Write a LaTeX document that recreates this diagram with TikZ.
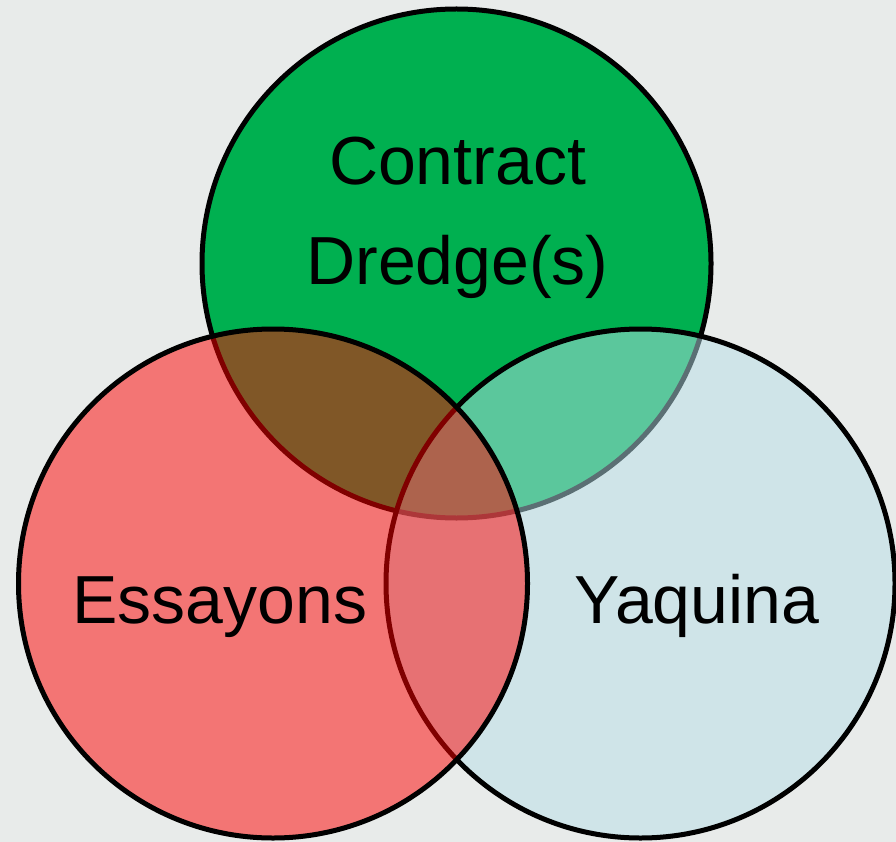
\documentclass[tikz,border=0pt]{standalone}
\usepackage{fontspec}
\setmainfont{Liberation Sans}
\definecolor{vgreen}{HTML}{00B050}
\definecolor{vblue}{HTML}{B7DEE8}
\definecolor{vred}{HTML}{FF0000}
\definecolor{backdrop}{HTML}{E8EBEA}
\begin{document}
\begin{tikzpicture}[
  x=1pt, y=-1pt,
  venn/.style={circle, draw=black, minimum size=509pt, inner sep=0pt},
  tag/.style={font=\fontsize{68}{100}\selectfont, align=center, text=black, inner sep=0pt}
]
% background
\fill[backdrop] (0,0) rectangle (896,842);
\useasboundingbox (0,0) rectangle (896,842);

% circles, back to front
\begin{scope}[line width=5pt]
\node[venn, fill=vgreen] (dredge) at (456.5,263.5) {};
\node[venn, fill=vblue, fill opacity=0.5] (yaquina) at (640.5,583.5) {};
\node[venn, fill=vred, fill opacity=0.5] (essayons) at (273,583.5) {};
\end{scope}

% labels
\node[tag] (dredgetxt) at (457.5,217.5) {Contract\\Dredge(s)};
\node[tag, anchor=base] (essayonstxt) at (220,623) {Essayons};
\node[tag, anchor=base] (yaquinatxt) at (697,623) {Yaquina};
\end{tikzpicture}
\end{document}
